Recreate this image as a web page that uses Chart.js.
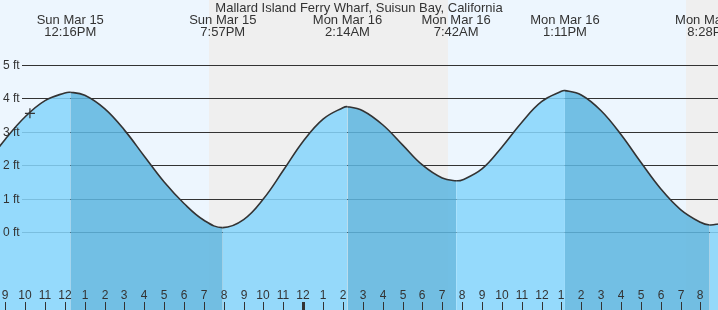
<!DOCTYPE html>
<html>
<head>
<meta charset="utf-8">
<script src="https://cdn.jsdelivr.net/npm/chart.js@4/dist/chart.umd.min.js"></script>
<style>
  html, body { margin: 0; padding: 0; background: #fff; }
  #tideChart { display: block; }
</style>
</head>
<body>
<canvas id="tideChart" width="718" height="310"></canvas>
<script>
/* ── Data (hours counted from Sun Mar 15 00:00) ─────────── */
const TITLE = 'Mallard Island Ferry Wharf, Suisun Bay, California';

const tideHours = [8, 9, 10, 11, 12, 12.27, 13, 14, 15, 16, 17, 18, 19, 19.95,
  21, 22, 23, 24, 25, 26, 26.23, 27, 28, 29, 30, 31, 31.7, 32, 33, 34, 35, 36,
  37, 37.18, 38, 39, 40, 41, 42, 43, 44, 44.47, 45];
const tideFeet = [2.0, 2.78, 3.45, 3.93, 4.16, 4.18, 4.09, 3.69, 3.05, 2.27, 1.50, 0.86, 0.36, 0.14,
  0.38, 1.00, 1.85, 2.72, 3.38, 3.72, 3.75, 3.63, 3.21, 2.61, 2.01, 1.62, 1.54, 1.56, 1.89, 2.54, 3.28, 3.90,
  4.21, 4.23, 4.10, 3.63, 2.92, 2.09, 1.30, 0.68, 0.30, 0.22, 0.26];

const extremaHours = [12.27, 19.95, 26.23, 31.7, 37.18, 44.47];
const extremaDays  = ['Sun Mar 15', 'Sun Mar 15', 'Mon Mar 16', 'Mon Mar 16', 'Mon Mar 16', 'Mon Mar 16'];
const extremaTimes = ['12:16PM', '7:57PM', '2:14AM', '7:42AM', '1:11PM', '8:28PM'];

const nightStart = [19.26, 43.27];
const nightEnd   = [31.28, 46];

const nowHour = [10.24];
const nowFeet = [3.55];

const feetTicks = [0, 1, 2, 3, 4, 5];
const hourTicks = [9, 10, 11, 12, 13, 14, 15, 16, 17, 18, 19, 20, 21, 22, 23, 24,
  25, 26, 27, 28, 29, 30, 31, 32, 33, 34, 35, 36, 37, 38, 39, 40, 41, 42, 43, 44];

/* ── Colours ─────────────────────────────────────────────── */
const DAY_BG   = '#edf6fe';
const NIGHT_BG = '#efefef';
const RISING   = 'rgba(134,213,252,0.86)';
const FALLING  = 'rgba(93,182,224,0.86)';
const INK      = '#333';
const FONT     = "'Liberation Sans', Arial, sans-serif";

/* ── Background bands, grid and labels ───────────────────── */
const tideDecor = {
  id: 'tideDecor',
  beforeDatasetsDraw(chart) {
    const { ctx, scales: { x, y } } = chart;
    ctx.save();
    ctx.fillStyle = DAY_BG;
    ctx.fillRect(0, 0, chart.width, chart.height);
    ctx.fillStyle = NIGHT_BG;
    nightStart.forEach((s, i) => {
      const x0 = Math.round(x.getPixelForValue(s));
      const x1 = Math.min(chart.width, Math.round(x.getPixelForValue(nightEnd[i])));
      ctx.fillRect(x0, 0, x1 - x0, chart.height);
    });
    ctx.strokeStyle = INK;
    ctx.lineWidth = 1.2;
    feetTicks.forEach(f => {
      const py = Math.round(y.getPixelForValue(f)) + 0.5;
      ctx.beginPath();
      ctx.moveTo(22, py);
      ctx.lineTo(chart.width, py);
      ctx.stroke();
    });
    ctx.restore();
  },
  afterDatasetsDraw(chart) {
    const { ctx, scales: { x, y } } = chart;
    ctx.save();
    ctx.fillStyle = INK;

    // y labels
    ctx.font = '12px ' + FONT;
    ctx.textAlign = 'left';
    ctx.textBaseline = 'middle';
    feetTicks.forEach(f => ctx.fillText(f + ' ft', 3, y.getPixelForValue(f) + 0.5));

    // hour ticks
    ctx.textAlign = 'center';
    hourTicks.forEach(h => {
      const px = Math.round(x.getPixelForValue(h));
      const lbl = (h % 12) || 12;
      ctx.fillText(String(lbl), px, 296);
      const w = (h % 24 === 0) ? 3 : 1;
      ctx.fillRect(px - Math.floor(w / 2), 302, w, chart.height - 302);
    });

    // header
    ctx.font = '13px ' + FONT;
    ctx.fillText(TITLE, 359, 8);
    extremaHours.forEach((h, i) => {
      const px = x.getPixelForValue(h);
      ctx.fillText(extremaDays[i], px, 20);
      ctx.fillText(extremaTimes[i], px, 32);
    });
    ctx.restore();
  }
};

/* ── Chart ───────────────────────────────────────────────── */
new Chart(document.getElementById('tideChart'), {
  type: 'line',
  data: {
    datasets: [
      {
        label: 'now',
        data: nowHour.map((h, i) => ({ x: h, y: nowFeet[i] })),
        pointStyle: 'cross',
        pointRadius: 5,
        pointBorderWidth: 1.2,
        borderColor: INK,
        showLine: false,
        fill: false,
      },
      {
        label: 'tide',
        data: tideHours.map((h, i) => ({ x: h, y: tideFeet[i] })),
        borderColor: INK,
        borderWidth: 1.6,
        pointRadius: 0,
        tension: 0.4,
        fill: 'start',
        backgroundColor: RISING,
        segment: {
          backgroundColor: c => c.p1.parsed.y >= c.p0.parsed.y ? RISING : FALLING,
        },
      },
    ]
  },
  options: {
    responsive: false,
    devicePixelRatio: 1,
    animation: false,
    layout: { padding: 0, autoPadding: false },
    plugins: { legend: { display: false }, tooltip: { enabled: false } },
    scales: {
      x: { type: 'linear', display: false, min: 8.733, max: 44.886 },
      y: { display: false, min: -2.319, max: 6.934 },
    },
  },
  plugins: [tideDecor],
});
</script>
</body>
</html>
